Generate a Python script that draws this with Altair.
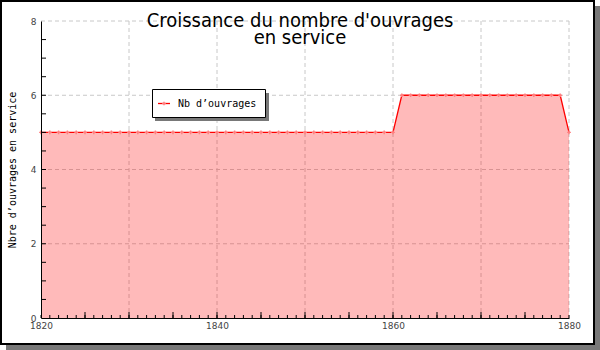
import altair as alt
import pandas as pd

# ---- data -------------------------------------------------------------
years = [1820, 1821, 1822, 1823, 1824, 1825, 1826, 1827, 1828, 1829,
         1830, 1831, 1832, 1833, 1834, 1835, 1836, 1837, 1838, 1839,
         1840, 1841, 1842, 1843, 1844, 1845, 1846, 1847, 1848, 1849,
         1850, 1851, 1852, 1853, 1854, 1855, 1856, 1857, 1858, 1859,
         1860, 1861, 1862, 1863, 1864, 1865, 1866, 1867, 1868, 1869,
         1870, 1871, 1872, 1873, 1874, 1875, 1876, 1877, 1878, 1879,
         1880]
counts = [5, 5, 5, 5, 5, 5, 5, 5, 5, 5,
          5, 5, 5, 5, 5, 5, 5, 5, 5, 5,
          5, 5, 5, 5, 5, 5, 5, 5, 5, 5,
          5, 5, 5, 5, 5, 5, 5, 5, 5, 5,
          5, 6, 6, 6, 6, 6, 6, 6, 6, 6,
          6, 6, 6, 6, 6, 6, 6, 6, 6, 6,
          5]
x_labels = [1820, 1840, 1860, 1880]
x_grid = [1830, 1840, 1850, 1860, 1870, 1880]
y_labels = [0, 2, 4, 6, 8]
y_grid = [2, 4, 6, 8]
x_minor = years
x_major = [1825, 1830, 1835, 1840, 1845, 1850, 1855, 1860, 1865, 1870, 1875]
y_minor = [0.5, 1, 1.5, 2, 2.5, 3, 3.5, 4, 4.5, 5, 5.5, 6, 6.5, 7, 7.5]
title_lines = ["Croissance du nombre d'ouvrages", "en service"]
y_title = "Nbre d\u2019ouvrages en service"
legend_label = "Nb d\u2019ouvrages"

W, H = 528, 297
xs = alt.Scale(domain=[1820, 1880], nice=False, zero=False)
ys = alt.Scale(domain=[0, 8], nice=False)

df = pd.DataFrame({"year": years, "count": counts})
one = pd.DataFrame({"k": [0]})

MONO = "DejaVu Sans Mono"
TFONT = "DejaVu Sans Condensed, DejaVu Sans"

X = lambda: alt.X("year:Q", scale=xs)
Y = lambda: alt.Y("count:Q", scale=ys)

# ---- frame with shadow ---------------------------------------------------
shadow = alt.Chart(one).mark_rect(color="#787878").encode(
    x=alt.value(-35), x2=alt.value(559), y=alt.value(-15), y2=alt.value(329))
frame = alt.Chart(one).mark_rect(fill="white", stroke="black", strokeWidth=2).encode(
    x=alt.value(-40), x2=alt.value(553), y=alt.value(-20), y2=alt.value(323))

# ---- grid ---------------------------------------------------------------
gx = alt.Chart(pd.DataFrame({"year": x_grid})).mark_rule(
    color="#c8c8c8", strokeDash=[4, 3], strokeWidth=1).encode(
    x=X(), y=alt.value(0), y2=alt.value(H))
gy = alt.Chart(pd.DataFrame({"count": y_grid})).mark_rule(
    color="#c8c8c8", strokeDash=[4, 3], strokeWidth=1).encode(
    y=Y(), x=alt.value(0), x2=alt.value(W))

# ---- series ---------------------------------------------------------------
area = alt.Chart(df).mark_area(color="#ff0000", opacity=0.27).encode(
    x=alt.X("year:Q", scale=xs,
            axis=alt.Axis(values=x_labels, title="", grid=False, ticks=False,
                          domain=True, domainColor="black", domainWidth=1,
                          labelFont="DejaVu Sans", labelFontSize=9, labelColor="#444",
                          labelPadding=3, labelFlush=False, zindex=1, format="d")),
    y=alt.Y("count:Q", scale=ys,
            axis=alt.Axis(values=y_labels, title=y_title, grid=False, ticks=False,
                          domain=True, domainColor="black", domainWidth=1,
                          labelFont="DejaVu Sans", labelFontSize=9, labelColor="#444",
                          labelPadding=5, labelFlush=False, zindex=1,
                          titleFont=MONO, titleFontSize=10, titleFontWeight="normal",
                          titleColor="black", titleX=-29, titleY=H / 2,
                          titleAlign="center", titleBaseline="middle", titleAngle=-90)))
line = alt.Chart(df).mark_line(color="#ff0000", strokeWidth=1.3).encode(x=X(), y=Y())
pts = alt.Chart(df).mark_point(shape="cross", filled=True, size=14, color="#ff8080",
                               opacity=1).encode(x=X(), y=Y())

# ---- inward ticks ----------------------------------------------------------
tx = alt.Chart(pd.DataFrame({"year": x_minor})).mark_rule(color="black", strokeWidth=1).encode(
    x=X(), y=alt.value(H), y2=alt.value(H - 3))
tX = alt.Chart(pd.DataFrame({"year": x_major})).mark_rule(color="black", strokeWidth=1).encode(
    x=X(), y=alt.value(H), y2=alt.value(H - 6))
ty = alt.Chart(pd.DataFrame({"count": y_minor})).mark_rule(color="black", strokeWidth=1).encode(
    y=Y(), x=alt.value(0), x2=alt.value(5))

# ---- title -----------------------------------------------------------------
t1 = alt.Chart(one).mark_text(text=title_lines[0], font=TFONT, fontSize=20,
                              color="black", align="center", baseline="alphabetic").encode(
    x=alt.value(259), y=alt.value(6))
t2 = alt.Chart(one).mark_text(text=title_lines[1], font=TFONT, fontSize=20,
                              color="black", align="center", baseline="alphabetic").encode(
    x=alt.value(259), y=alt.value(23))

# ---- legend ----------------------------------------------------------------
lsh = alt.Chart(one).mark_rect(color="#787878").encode(
    x=alt.value(114), x2=alt.value(228), y=alt.value(72), y2=alt.value(100))
lbox = alt.Chart(one).mark_rect(fill="white", stroke="black", strokeWidth=1).encode(
    x=alt.value(111.5), x2=alt.value(224.5), y=alt.value(68.5), y2=alt.value(96.5))
lline = alt.Chart(one).mark_rule(color="#ff0000", strokeWidth=1.3).encode(
    x=alt.value(117), x2=alt.value(129), y=alt.value(82.5))
lpt = alt.Chart(one).mark_point(shape="cross", filled=True, size=14, color="#ff8080",
                                opacity=1).encode(x=alt.value(123), y=alt.value(82.5))
ltxt = alt.Chart(one).mark_text(text=legend_label, font=MONO, fontSize=10, color="black",
                                align="left", baseline="middle").encode(
    x=alt.value(137), y=alt.value(82.5))

chart = alt.layer(
    shadow, frame, gx, gy, area, line, pts, tx, tX, ty, t1, t2,
    lsh, lbox, lline, lpt, ltxt
).properties(
    width=W, height=H,
    autosize=alt.AutoSizeParams(type="none"),
    padding={"left": 41, "top": 21, "right": 31, "bottom": 32},
).configure_view(stroke=None).configure(background="white")

chart.save("out.html", embed_options={"renderer": "svg", "actions": False})
